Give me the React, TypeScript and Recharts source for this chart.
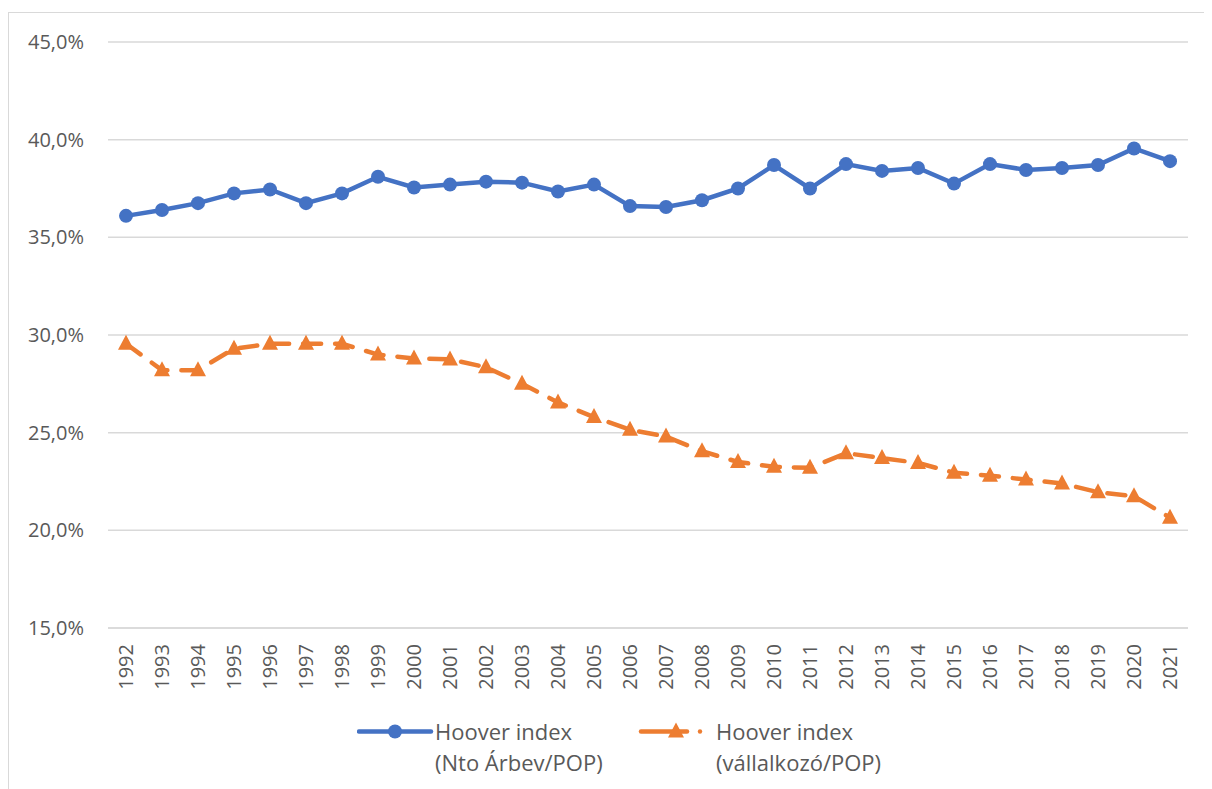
import { LineChart, Line, CartesianGrid, XAxis, YAxis } from 'recharts';

const years = [
    '1992', '1993', '1994', '1995', '1996', '1997', '1998', '1999', '2000', '2001',
    '2002', '2003', '2004', '2005', '2006', '2007', '2008', '2009', '2010', '2011',
    '2012', '2013', '2014', '2015', '2016', '2017', '2018', '2019', '2020', '2021',
];

// Hoover index (Nto Árbev/POP), %
const arbev = [
    36.1, 36.4, 36.75, 37.25, 37.45, 36.75, 37.25, 38.1, 37.55, 37.7,
    37.85, 37.8, 37.35, 37.7, 36.6, 36.55, 36.9, 37.5, 38.7, 37.5,
    38.75, 38.4, 38.55, 37.75, 38.75, 38.45, 38.55, 38.7, 39.55, 38.9,
];

// Hoover index (vállalkozó/POP), %
const vallalkozo = [
    29.55, 28.2, 28.2, 29.3, 29.55, 29.55, 29.55, 29.0, 28.8, 28.75,
    28.35, 27.5, 26.55, 25.8, 25.15, 24.8, 24.05, 23.5, 23.25, 23.2,
    23.95, 23.7, 23.45, 22.95, 22.8, 22.6, 22.4, 21.95, 21.75, 20.65,
];

const yTicks = [15, 20, 25, 30, 35, 40, 45];

const BLUE = '#4472C4';
const ORANGE = '#ED7D31';
const TEXT = '#595959';
const FONT = '"Open Sans", "Noto Sans", sans-serif';

const data = years.map((year, i) => ({ year, arbev: arbev[i], vallalkozo: vallalkozo[i] }));

const fmt = (v: number) => v.toFixed(1).replace('.', ',') + '%';

function Triangle(props: any) {
    const { cx, cy } = props;
    if (cx == null || cy == null) return null;
    return <path d={`M${cx},${cy - 9} L${cx + 8},${cy + 6} L${cx - 8},${cy + 6} Z`} fill={ORANGE} />;
}

function XTick(props: any) {
    const { x, y, payload } = props;
    return (
        <text x={x} y={y} transform={`rotate(-90, ${x}, ${y})`} textAnchor="end" dy="0.36em"
            fill={TEXT} fontSize={20} fontFamily={FONT}>
            {payload.value}
        </text>
    );
}

export default function App() {
    return (
        <div style={{ marginTop: 4, width: 1204, height: 790, border: '1px solid #d9d9d9', position: 'relative', boxSizing: 'border-box', fontFamily: FONT }}>
            <LineChart width={1202} height={700} data={data} margin={{ top: 29, right: 23, left: 0, bottom: 0 }}>
                <CartesianGrid vertical={false} stroke="#d9d9d9" strokeWidth={1.5} />
                <XAxis
                    dataKey="year"
                    height={85}
                    padding={{ left: 18, right: 18 }}
                    axisLine={{ stroke: '#d9d9d9', strokeWidth: 1.5 }}
                    tickLine={false}
                    tickSize={0}
                    tickMargin={16}
                    interval={0}
                    tick={<XTick />}
                />
                <YAxis
                    width={99}
                    domain={[15, 45]}
                    ticks={yTicks}
                    tickFormatter={fmt}
                    axisLine={false}
                    tickLine={false}
                    tickSize={0}
                    tickMargin={24}
                    tick={{ fill: TEXT, fontSize: 20, fontFamily: FONT }}
                />
                <Line
                    dataKey="arbev"
                    stroke={BLUE}
                    strokeWidth={4.5}
                    dot={{ r: 7, fill: BLUE, stroke: BLUE, strokeWidth: 0 }}
                    isAnimationActive={false}
                />
                <Line
                    dataKey="vallalkozo"
                    stroke={ORANGE}
                    strokeWidth={4.5}
                    strokeDasharray="18 14"
                    strokeLinecap="round"
                    dot={<Triangle />}
                    isAnimationActive={false}
                />
            </LineChart>
            <div style={{ position: 'absolute', left: 348, top: 703, display: 'flex', alignItems: 'flex-start', color: TEXT, fontSize: 22, lineHeight: '31px' }}>
                <svg width={78} height={31} style={{ flex: 'none' }}>
                    <line x1={2} y1={15.5} x2={74} y2={15.5} stroke={BLUE} strokeWidth={4.5} strokeLinecap="round" />
                    <circle cx={38} cy={15.5} r={7} fill={BLUE} />
                </svg>
                <div>Hoover index<br />(Nto Árbev/POP)</div>
            </div>
            <div style={{ position: 'absolute', left: 628, top: 703, display: 'flex', alignItems: 'flex-start', color: TEXT, fontSize: 22, lineHeight: '31px' }}>
                <svg width={79} height={31} style={{ flex: 'none' }}>
                    <line x1={4} y1={15.5} x2={50} y2={15.5} stroke={ORANGE} strokeWidth={4.5} strokeLinecap="round" />
                    <path d="M39,6.5 L47,21.5 L31,21.5 Z" fill={ORANGE} />
                    <circle cx={63} cy={15.5} r={2.2} fill={ORANGE} />
                </svg>
                <div>Hoover index<br />(vállalkozó/POP)</div>
            </div>
        </div>
    );
}
